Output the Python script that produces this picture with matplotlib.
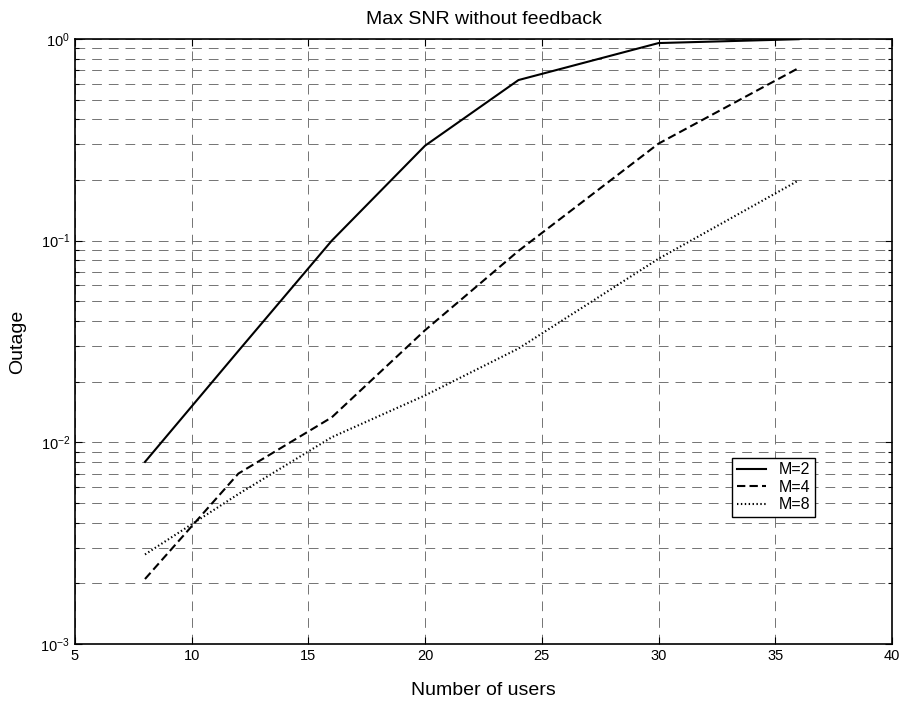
import matplotlib
matplotlib.use("Agg")
import matplotlib.pyplot as plt
from matplotlib.ticker import LogLocator, FixedLocator

plt.rcParams["font.family"] = ["Liberation Sans", "DejaVu Sans"]
plt.rcParams["lines.scale_dashes"] = False

# number of users at which outage was simulated
users = [8, 12, 16, 20, 24, 30, 36]

# outage probability for each number of antennas
outage_m2 = [0.0080, 0.0284, 0.100, 0.296, 0.626, 0.955, 0.998]
outage_m4 = [0.0021, 0.0070, 0.0133, 0.036, 0.089, 0.303, 0.718]
outage_m8 = [0.00278, 0.00554, 0.0106, 0.0171, 0.0292, 0.0814, 0.199]

labels = ["M=2", "M=4", "M=8"]
x_ticks = [5, 10, 15, 20, 25, 30, 35, 40]

fig = plt.figure(figsize=(9.02, 7.07), dpi=100)
ax = fig.add_axes([0.0831, 0.0891, 0.9058, 0.8557])

ax.plot(users, outage_m2, color="black", lw=1.5, ls="-", label=labels[0])
ax.plot(users, outage_m4, color="black", lw=1.5, ls=(0, (6, 3)), label=labels[1])
ax.plot(users, outage_m8, color="black", lw=1.5, ls=(0, (1, 1.8)), label=labels[2])

ax.set_yscale("log")
ax.set_xlim(5, 40)
ax.set_ylim(1e-3, 1)
ax.xaxis.set_major_locator(FixedLocator(x_ticks))
ax.yaxis.set_major_locator(LogLocator(base=10, numticks=10))
ax.yaxis.set_minor_locator(LogLocator(base=10, subs=range(2, 10), numticks=20))

grid_style = dict(color="0.45", lw=0.7, ls=(0, (7, 5)))
ax.grid(True, which="major", axis="both", **grid_style)
ax.grid(True, which="minor", axis="y", **grid_style)

ax.tick_params(which="both", direction="in", top=True, right=True,
               labelsize=10.5, width=0.8)
ax.tick_params(which="major", length=5)
ax.tick_params(which="minor", length=3)
for side in ax.spines.values():
    side.set_linewidth(1.2)

ax.set_title("Max SNR without feedback", fontsize=14, pad=11)
ax.set_xlabel("Number of users", fontsize=14, labelpad=14)
ax.set_ylabel("Outage", fontsize=14, labelpad=10)

leg = ax.legend(loc="lower right", bbox_to_anchor=(0.906, 0.21),
                fontsize=11.5, fancybox=False, framealpha=1,
                edgecolor="black", handlelength=1.8, borderpad=0.3,
                labelspacing=0.15, handletextpad=0.8, borderaxespad=0)
leg.get_frame().set_linewidth(1.0)

fig.savefig("out.png", dpi=100)
